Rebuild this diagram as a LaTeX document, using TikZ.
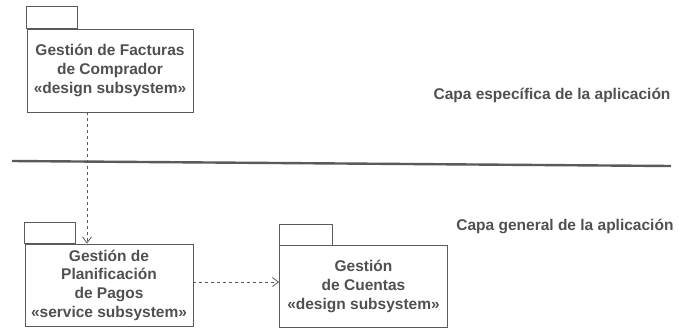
\documentclass[tikz,border=0pt]{standalone}
\usepackage{fontspec}
\setmainfont{Liberation Sans}
\usetikzlibrary{arrows.meta}
\definecolor{ink}{HTML}{505050}
\definecolor{rule}{HTML}{5A5A5A}
\tikzset{
  pkg/.style={draw=rule, line width=0.9pt, align=center, inner sep=0pt,
    text=ink, font=\bfseries\fontsize{15.5}{18.7}\selectfont},
  dep/.style={draw=rule, line width=0.8pt, dash pattern=on 3pt off 3pt,
    -{Straight Barb[length=6pt,width=9pt,line width=0.8pt]}},
  layer/.style={text=ink, font=\bfseries\fontsize{15.5}{18}\selectfont, anchor=base east},
}
\newcommand{\pkgtab}[3]{%
  \draw[draw=rule, line width=0.9pt] (#1.north west) rectangle ++(#2,-#3);}
\begin{document}
\begin{tikzpicture}[x=1pt,y=-1pt]
  \fill[white] (0,0) rectangle (679,335);
  \useasboundingbox (0,0) rectangle (679,335);

  % packages
  \node[pkg, minimum width=166pt, minimum height=83pt] (facturas) at (110,70.5)
    {Gestión de Facturas\\de Comprador\\«design subsystem»};
  \pkgtab{facturas}{51}{22}

  \node[pkg, minimum width=168pt, minimum height=82pt] (pagos) at (109,285)
    {Gestión de\\Planificación\\de Pagos\\«service subsystem»};
  \pkgtab{pagos}{51}{21}

  \node[pkg, minimum width=168pt, minimum height=82pt] (cuentas) at (363.5,286.5)
    {Gestión\\de Cuentas\\«design subsystem»};
  \pkgtab{cuentas}{53}{21}

  % layer separator and labels
  \coordinate (sepL) at (12,161);
  \coordinate (sepR) at (671,166);
  \draw[draw=rule, line width=2.4pt] (sepL) -- (sepR);
  \node[layer] (especifica) at (674,99.5) {Capa específica de la aplicación};
  \node[layer] (general) at (677,230) {Capa general de la aplicación};

  % dependencies
  \draw[dep] (facturas.south -| 87,0) -- (pagos.north -| 87,0);
  \draw[dep] (pagos.east |- 0,282) -- (cuentas.west |- 0,282);
\end{tikzpicture}
\end{document}
